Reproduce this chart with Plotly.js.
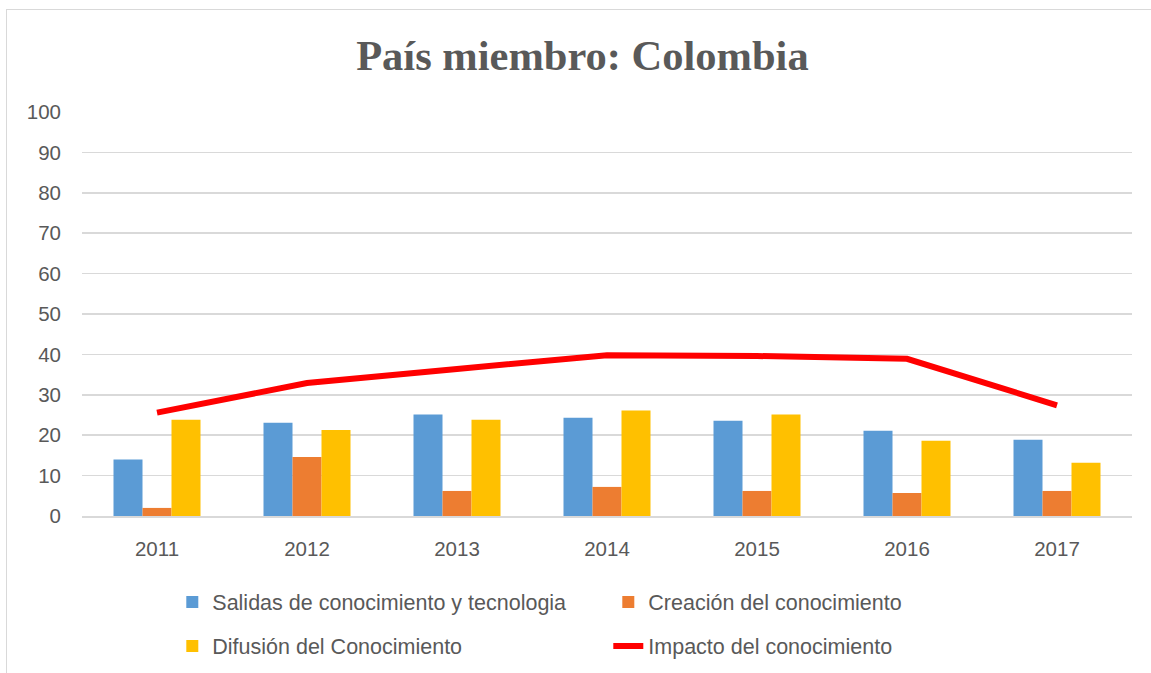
<!DOCTYPE html>
<html>
<head>
<meta charset="utf-8">
<script src="https://cdn.plot.ly/plotly-3.0.1.min.js"></script>
<style>
html,body{margin:0;padding:0;background:#fff;}
#frame{position:absolute;left:6px;top:9px;width:1150px;height:670px;border:1px solid #d9d9d9;box-sizing:border-box;pointer-events:none;z-index:5;}
#chart{width:1151px;height:673px;}
</style>
</head>
<body>
<div id="frame"></div>
<div id="chart"></div>
<script>
const years = ['2011','2012','2013','2014','2015','2016','2017'];
const salidas = [14, 23.1, 25.1, 24.3, 23.6, 21.1, 18.9];
const creacion = [2.0, 14.6, 6.2, 7.2, 6.2, 5.7, 6.2];
const difusion = [23.8, 21.3, 23.8, 26.1, 25.1, 18.6, 13.2];
const impacto = [25.6, 32.9, 36.4, 39.8, 39.6, 38.9, 27.4];
const yTicks = [0,10,20,30,40,50,60,70,80,90,100];

const textColor = '#595959';
const legFont = {family:'Liberation Sans, Arial, sans-serif', size:21.5, color:textColor};
const tickFont = {family:'Liberation Sans, Arial, sans-serif', size:20.5, color:textColor};

const traces = [
  {type:'bar', x:years, y:salidas, name:'Salidas de conocimiento y tecnologia',
   marker:{color:'#5B9BD5'}, legend:'legend'},
  {type:'bar', x:years, y:creacion, name:'Creación del conocimiento',
   marker:{color:'#ED7D31'}, legend:'legend'},
  {type:'bar', x:years, y:difusion, name:'Difusión del Conocimiento',
   marker:{color:'#FFC000'}, legend:'legend2'},
  {type:'scatter', mode:'lines', x:years, y:impacto, name:'Impacto del conocimiento',
   line:{color:'#FF0000', width:6}, legend:'legend2'}
];

const legCommon = {orientation:'h', xanchor:'left', yanchor:'middle',
  entrywidth:391, entrywidthmode:'pixels', font:legFont, bgcolor:'rgba(0,0,0,0)', itemwidth:30};

const layout = {
  width:1151, height:673,
  margin:{l:82, r:19, t:112, b:157, autoexpand:false},
  paper_bgcolor:'#ffffff', plot_bgcolor:'#ffffff',
  title:{text:'<b>País miembro: Colombia</b>', x:0.506, xanchor:'center', y:0.918, yanchor:'middle',
         font:{family:'Liberation Serif, Times New Roman, serif', size:42.5, color:textColor}},
  barmode:'group', bargap:0.42, bargroupgap:0,
  xaxis:{type:'category', showgrid:false, showline:true, linecolor:'#d9d9d9', linewidth:1.5,
         ticks:'', tickfont:tickFont, ticklabelstandoff:14, automargin:false},
  yaxis:{range:[0,100], tickvals:yTicks, showgrid:true, gridcolor:'#d9d9d9', gridwidth:1.5,
         zeroline:false, showline:false, ticks:'', tickfont:tickFont, ticklabelstandoff:20, automargin:false},
  showlegend:true,
  legend:Object.assign({x:0.086, y:-0.213}, legCommon),
  legend2:Object.assign({x:0.086, y:-0.322}, legCommon)
};

Plotly.newPlot('chart', traces, layout, {displayModeBar:false, staticPlot:true});
</script>
</body>
</html>
